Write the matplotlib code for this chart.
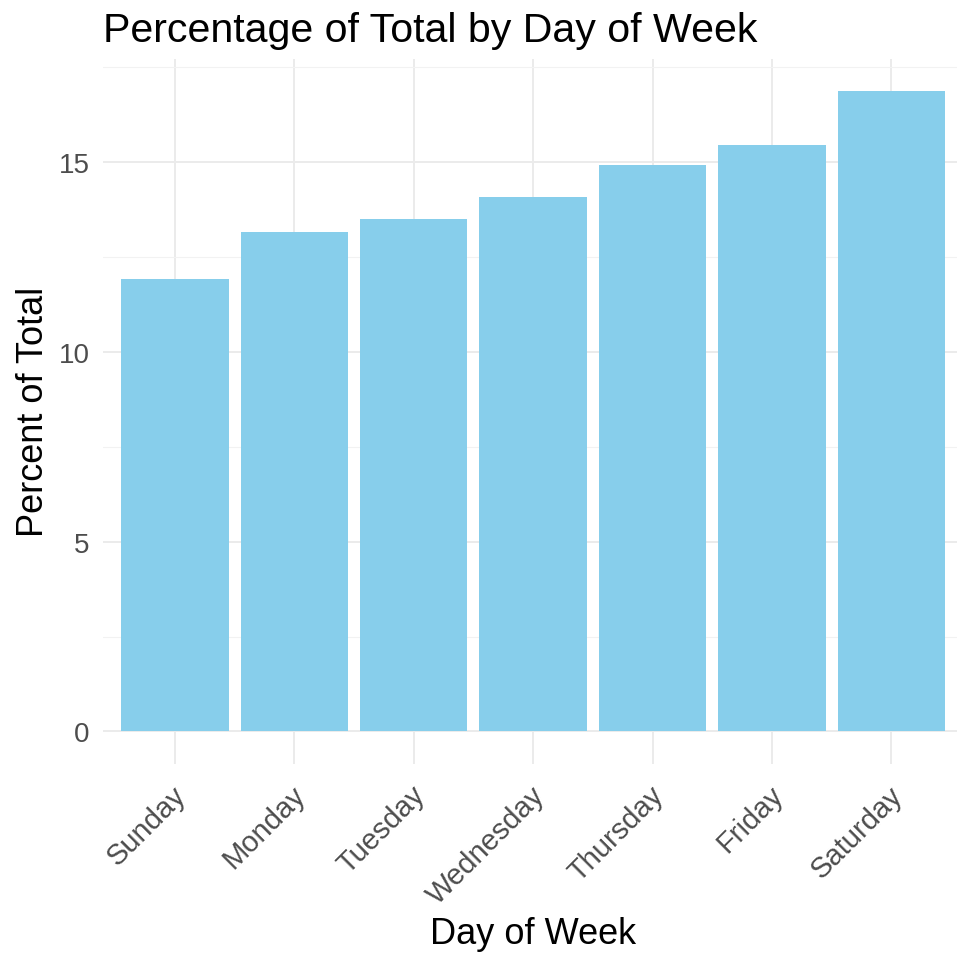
import matplotlib.pyplot as plt
from matplotlib.ticker import MultipleLocator
from matplotlib.transforms import ScaledTranslation

days = ["Sunday", "Monday", "Tuesday", "Wednesday", "Thursday", "Friday", "Saturday"]
percent = [11.92, 13.15, 13.50, 14.07, 14.93, 15.46, 16.87]

plt.rcParams["font.family"] = ["Liberation Sans", "DejaVu Sans"]

W, H = 957, 954
fig = plt.figure(figsize=(W / 100, H / 100), dpi=100)

# panel in pixel coordinates (left, top, right, bottom); right side is cropped as in the reference
left, top, right, bottom = 103.3, 60.0, 963.0, 764.5
ax = fig.add_axes([left / W, 1 - bottom / H, (right - left) / W, (bottom - top) / H])

x = list(range(len(days)))
ax.bar(x, percent, width=0.9, color="#87CEEB", zorder=2)

ymax = max(percent)
ax.set_ylim(-0.05 * ymax, ymax * 1.05)
ax.set_xlim(-0.6, len(days) - 0.4)

ax.yaxis.set_major_locator(MultipleLocator(5))
ax.yaxis.set_minor_locator(MultipleLocator(2.5))
ax.grid(which="major", color="#EBEBEB", linewidth=1.4, zorder=0)
ax.grid(which="minor", axis="y", color="#F2F2F2", linewidth=0.8, zorder=0)
ax.set_axisbelow(True)
for s in ax.spines.values():
    s.set_visible(False)

ax.set_xticks(x)
ax.set_xticklabels(days, rotation=45, ha="right", va="top", fontsize=21, color="#4D4D4D")
ax.tick_params(axis="both", which="both", length=0)
ax.tick_params(axis="x", pad=12)
ax.tick_params(axis="y", labelsize=20, labelcolor="#4D4D4D", pad=10)
shift = ScaledTranslation(0.17, 0, fig.dpi_scale_trans)
for lab in ax.get_xticklabels():
    lab.set_transform(lab.get_transform() + shift)

fig.text(left / W, 1 - 42 / H, "Percentage of Total by Day of Week", fontsize=29.6, va="baseline", ha="left")
fig.text(533 / W, 1 - 944 / H, "Day of Week", fontsize=26, va="baseline", ha="center")
fig.text(34 / W, 1 - 412 / H, "Percent of Total", fontsize=26, va="center", ha="center", rotation=90)

fig.savefig("out.png", dpi=100, facecolor="white")
